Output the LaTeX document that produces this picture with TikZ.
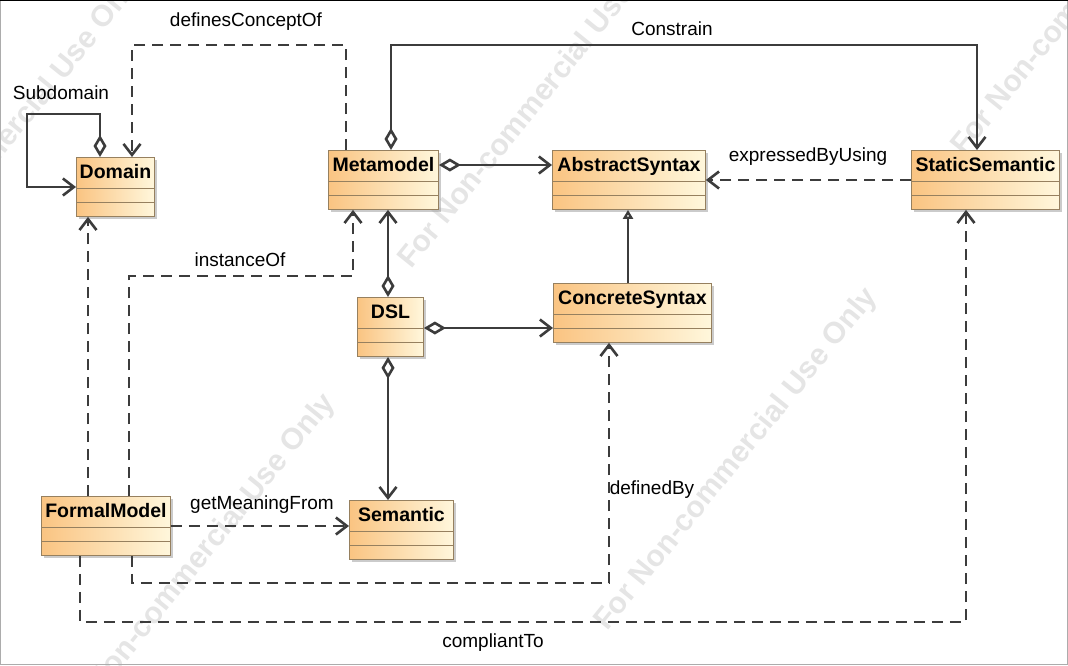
\documentclass[tikz,border=0pt]{standalone}
\usepackage{fontspec}
\setmainfont{Liberation Sans}
\usetikzlibrary{arrows.meta,shadows,calc}
\definecolor{lc}{RGB}{60,60,60}
\definecolor{bord}{RGB}{150,128,95}
\definecolor{gl}{RGB}{250,196,130}
\definecolor{gr}{RGB}{255,247,220}
\tikzset{
  umlbox/.style={draw=bord, line width=0.9pt, left color=gl, right color=gr,
    minimum height=59pt, inner sep=0pt, anchor=north west,
    drop shadow={shadow xshift=3pt, shadow yshift=-3pt, fill=black!40, opacity=0.5}},
  ttl/.style={font=\bfseries\fontsize{19.5}{22}\selectfont, inner sep=0pt, anchor=base},
  sepline/.style={draw=bord, line width=0.8pt},
  conn/.style={draw=lc, line width=2.6pt},
  dconn/.style={conn, dash pattern=on 11pt off 7pt},
  opentip/.style={-{Straight Barb[length=11pt,width=17pt]}},
  agg/.style={conn, {Diamond[open,length=22pt,width=13pt]}-{Straight Barb[length=11pt,width=17pt]}},
  gen/.style={conn, -{Triangle[open,length=9pt,width=10pt]}},
  dep/.style={dconn, opentip},
  lbl/.style={font=\fontsize{19}{22}\selectfont, inner sep=0pt},
  wm/.style={font=\bfseries\fontsize{30}{30}\selectfont, text=gray!20, rotate=51, inner sep=0pt}
}
\newcommand\umlcls[5]{%
  \node[umlbox, minimum width=#4pt] (#1) at (#2,#3) {};
  \node[ttl] (#1-t) at ($(#1.north)+(0,21)$) {#5};
  \draw[sepline] ([yshift=-31pt]#1.north west) -- ([yshift=-31pt]#1.north east);
  \draw[sepline] ([yshift=-45pt]#1.north west) -- ([yshift=-45pt]#1.north east);
}
\begin{document}
\begin{tikzpicture}[x=1pt,y=-1pt]
\useasboundingbox (0,0) rectangle (1068,665);
\fill[white] (0,0) rectangle (1068,665);
% watermarks
\node[wm, anchor=east] (wa) at (330,398) {For Non-commercial Use Only};
\node[wm, anchor=west] (wb) at (405,265) {For Non-commercial Use Only};
\node[wm, anchor=west] (wc) at (958,152) {For Non-commercial Use Only};
\node[wm, anchor=east] (wd) at (140,-25) {For Non-commercial Use Only};
\node[wm, anchor=east] (we) at (872,292) {For Non-commercial Use Only};
% frame
\draw[gray!65, line width=1.4pt] (0.7,0.7) rectangle (1067.3,664.3);
\draw[black, line width=1.4pt] (0,0.7) -- (1068,0.7);
% classes
\umlcls{dom}{76}{157}{78}{Domain}
\umlcls{mm}{328}{150}{110}{Metamodel}
\umlcls{as}{552}{150}{153}{AbstractSyntax}
\umlcls{ss}{911}{150}{148}{StaticSemantic}
\umlcls{dsl}{357}{297}{66}{DSL}
\umlcls{cs}{553}{283}{158}{ConcreteSyntax}
\umlcls{fm}{41}{496}{129}{FormalModel}
\umlcls{sem}{349}{500}{104}{Semantic}
% connectors
\draw[agg] ([xshift=24pt]dom.north west) -- (100,114) -- (27,114) -- (27,187) -- ([yshift=-30pt]dom.north west);
\node[lbl] (l-sub) at (61,93) {Subdomain};
\draw[dep] ([xshift=18pt]mm.north west) -- (346,45) -- (132,45) -- ([xshift=56pt]dom.north west);
\node[lbl] (l-def) at (246,22) {definesConceptOf};
\draw[agg] ([xshift=63pt]mm.north west) -- (391,45) -- (977,45) -- ([xshift=66pt]ss.north west);
\node[lbl] (l-con) at (672,29) {Constrain};
\draw[agg] ([yshift=-15pt]mm.north east) -- ([yshift=-15pt]as.north west);
\draw[dep] ([yshift=-30pt]ss.north west) -- ([yshift=-30pt]as.north east);
\node[lbl] (l-exp) at (808,157) {expressedByUsing};
\draw[gen] ([xshift=75pt]cs.north west) -- ([xshift=76pt]as.south west);
\draw[agg] ([xshift=31pt]dsl.north west) -- ([xshift=60pt]mm.south west);
\draw[agg] ([yshift=-31pt]dsl.north east) -- ([yshift=-45pt]cs.north west);
\draw[agg] ([xshift=31pt]dsl.south west) -- ([xshift=39pt]sem.north west);
\draw[dep] ([xshift=47pt]fm.north west) -- ([xshift=12pt]dom.south west);
\draw[dep] ([xshift=88pt]fm.north west) -- (129,276) -- (353,276) -- ([xshift=25pt]mm.south west);
\node[lbl] (l-inst) at (240,260) {instanceOf};
\draw[dep] ([yshift=-30pt]fm.north east) -- ([yshift=-26pt]sem.north west);
\node[lbl] (l-gmf) at (262,505) {getMeaningFrom};
\draw[dep] ([xshift=91pt]fm.south west) -- (132,583) -- (609,583) -- ([xshift=56pt]cs.south west);
\node[lbl] (l-defby) at (652,490) {definedBy};
\draw[dep] ([xshift=39pt]fm.south west) -- (80,622) -- (966,622) -- ([xshift=55pt]ss.south west);
\node[lbl] (l-comp) at (493,643) {compliantTo};
\end{tikzpicture}
\end{document}
